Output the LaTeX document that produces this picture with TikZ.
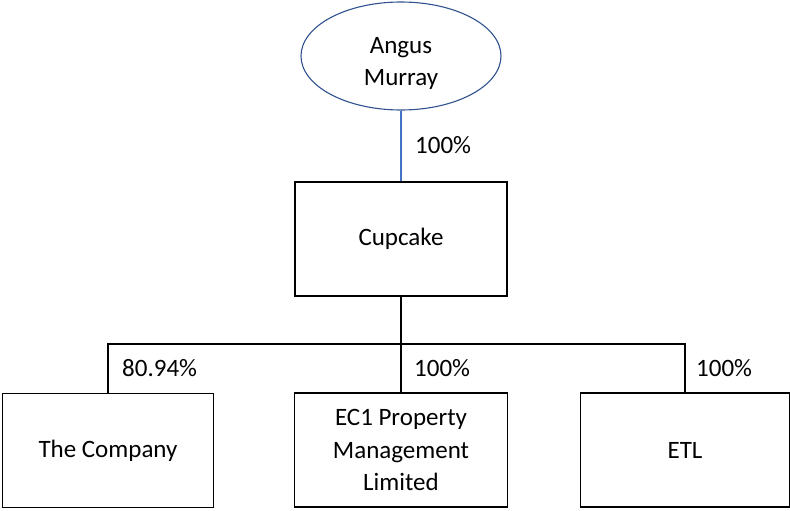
\documentclass[tikz,border=0pt]{standalone}
\usepackage{fontspec}
\setmainfont{Carlito}
\usetikzlibrary{shapes.geometric}
\definecolor{ellblue}{HTML}{2F528F}
\definecolor{linkblue}{HTML}{4472C4}
\tikzset{
  entity/.style={draw=black, line width=1.2pt, rectangle, minimum width=211pt, minimum height=114pt, inner sep=0pt, align=center, font=\fontsize{25}{32.5}\selectfont},
  person/.style={draw=ellblue, line width=1.1pt, ellipse, minimum width=200pt, minimum height=108pt, inner sep=0pt, align=center, font=\fontsize{25}{32.5}\selectfont},
  share/.style={anchor=west, inner sep=0pt, font=\fontsize{25}{30}\selectfont},
  owner/.style={draw=black, line width=1.2pt},
  ownerblue/.style={draw=linkblue, line width=1.2pt}
}
\begin{document}
\begin{tikzpicture}[x=1pt, y=-1pt]
\useasboundingbox (0,0) rectangle (790,511);
\node[person] (am) at (401,56) {\raisebox{-7pt}[\height][\depth]{\begin{tabular}{@{}c@{}}Angus\\Murray\end{tabular}}};
\node[entity, minimum width=212pt] (cup) at (401,239) {Cupcake};
\node[entity] (co) at (108,450.5) {The Company};
\node[entity, minimum width=213pt] (ec) at (401,450) {EC1 Property\\Management\\Limited};
\node[entity, minimum width=209pt] (etl) at (685,450) {ETL};
\coordinate (jL) at (108,344);
\coordinate (jR) at (685,344);
\draw[ownerblue] (am.south) -- (cup.north);
\draw[owner] (cup.south) -- (ec.north);
\draw[owner] (co.north) -- (jL) -- (jR) -- (etl.north);
\node[share] (p1) at (415,145) {100\%};
\node[share] (p2) at (122,368) {80.94\%};
\node[share] (p3) at (414,368) {100\%};
\node[share] (p4) at (696,368) {100\%};
\end{tikzpicture}
\end{document}
